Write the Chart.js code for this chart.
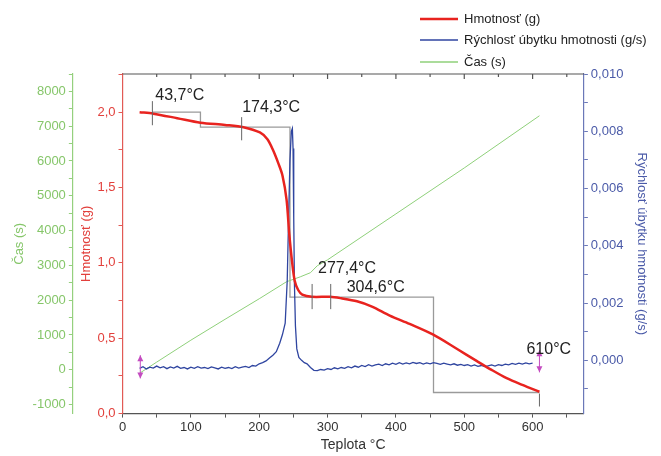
<!DOCTYPE html>
<html>
<head>
<meta charset="utf-8">
<script src="https://cdn.jsdelivr.net/npm/chart.js@4.4.1/dist/chart.umd.min.js"></script>
<style>
  html, body { margin: 0; padding: 0; background: #fff; }
  #wrap { width: 661px; height: 456px; }
</style>
</head>
<body>
<div id="wrap"><canvas id="tgaChart"></canvas></div>
<script>
// hmotnost (g) vs teplota
var massTemp = [25, 45, 80, 114, 150, 177, 201, 212, 220, 228, 234, 240, 244, 248, 252, 257, 263, 277, 304, 320, 343, 365, 391, 420, 454, 489, 518, 540, 562, 585, 610];
var massValues = [2.00, 1.99, 1.96, 1.93, 1.915, 1.90, 1.865, 1.82, 1.75, 1.66, 1.58, 1.42, 1.19, 1.01, 0.88, 0.82, 0.79, 0.775, 0.775, 0.765, 0.745, 0.71, 0.65, 0.595, 0.525, 0.43, 0.35, 0.29, 0.235, 0.19, 0.145];

// rychlost ubytku hmotnosti (g/s)
var rateTemp = [25, 30, 35, 40, 45, 50, 55, 60, 65, 70, 75, 80, 85, 90, 95, 100, 105, 110, 115, 120, 125, 130, 135, 140, 145, 150, 155, 160, 165, 170, 175, 180, 185, 190, 195, 200, 205, 210, 215, 220, 225, 230, 234, 238, 241, 243, 245, 247, 248.5, 249.5, 250.5, 251.5, 253, 255, 258, 262, 266, 270, 275, 280, 285, 290, 295, 300, 305, 310, 315, 320, 325, 330, 335, 340, 345, 350, 355, 360, 365, 370, 375, 380, 385, 390, 395, 400, 405, 410, 415, 420, 425, 430, 435, 440, 445, 450, 455, 460, 465, 470, 475, 480, 485, 490, 495, 500, 505, 510, 515, 520, 525, 530, 535, 540, 545, 550, 555, 560, 565, 570, 575, 580, 585, 590, 595, 600, 605, 610];
var rateValues = [-0.00028, -0.00022, -0.00030, -0.00024, -0.00027, -0.00020, -0.00026, -0.00022, -0.00029, -0.00023, -0.00027, -0.00021, -0.00028, -0.00025, -0.00030, -0.00024, -0.00028, -0.00022, -0.00027, -0.00025, -0.00029, -0.00023, -0.00026, -0.00030, -0.00024, -0.00028, -0.00025, -0.00029, -0.00022, -0.00027, -0.00024, -0.00021, -0.00025, -0.00018, -0.00020, -0.00012, -0.00008, -0.00002, 0.00008, 0.00018, 0.00030, 0.00060, 0.00090, 0.00130, 0.0028, 0.0050, 0.0070, 0.0080, 0.0081, 0.0074, 0.0050, 0.0027, 0.0012, 0.0004, 0.00010, 0.00000, -0.00008, -0.00012, -0.00025, -0.00035, -0.00036, -0.00032, -0.00034, -0.00029, -0.00032, -0.00026, -0.00030, -0.00025, -0.00028, -0.00022, -0.00026, -0.00020, -0.00024, -0.00018, -0.00022, -0.00015, -0.00020, -0.00016, -0.00013, -0.00018, -0.00012, -0.00016, -0.00010, -0.00014, -0.00008, -0.00013, -0.00009, -0.00012, -0.00007, -0.00011, -0.00008, -0.00013, -0.00009, -0.00012, -0.00008, -0.00011, -0.00014, -0.00010, -0.00013, -0.00016, -0.00012, -0.00017, -0.00014, -0.00018, -0.00015, -0.00020, -0.00016, -0.00021, -0.00018, -0.00022, -0.00019, -0.00016, -0.00020, -0.00015, -0.00018, -0.00013, -0.00016, -0.00011, -0.00014, -0.00010, -0.00013, -0.00009, -0.00012, -0.00010];

// cas (s)
var timeTemp = [25, 50, 100, 150, 200, 240, 260, 275, 285, 300, 400, 500, 610];
var timeValues = [-100, 220, 850, 1450, 2040, 2530, 2670, 2790, 2990, 3160, 4480, 5800, 7300];

// znacky teplot
var markTemps = [43.7, 174.3, 277.4, 304.6, 610];
var markLabels = ['43,7°C', '174,3°C', '277,4°C', '304,6°C', '610°C'];
var markSpan = [[2.073, 1.913], [1.967, 1.813], [0.86, 0.693], [0.86, 0.693], [0.133, 0.047]];
var labelPos = [[48, 2.113], [175, 2.027], [286, 0.96], [328, 0.833], [591, 0.427]];

// schodovita konstrukcia
var stepTemp = [43.7, 114, 114, 245, 245, 455, 455, 610];
var stepMass = [2.0, 2.0, 1.9, 1.9, 0.773, 0.773, 0.14, 0.14];

var font = 'Liberation Sans, Arial, sans-serif';
var RED = '#e8231f', BLUE = '#2f45a0', GREEN = '#8fd07a';

function toXY(xs, ys) {
    var out = [];
    for (var i = 0; i < xs.length; i++) out.push({ x: xs[i], y: ys[i] });
    return out;
}

function stepTicks(from, to, step) {
    var t = [];
    var n = Math.round((to - from) / step);
    for (var i = 0; i <= n; i++) t.push({ value: +(from + i * step).toFixed(6) });
    return t;
}

function drawArrow(ctx, x, y1, y2) {
    ctx.beginPath();
    ctx.moveTo(x, y1); ctx.lineTo(x, y2); ctx.stroke();
    ctx.beginPath();
    ctx.moveTo(x, y1); ctx.lineTo(x - 3, y1 + 6); ctx.lineTo(x + 3, y1 + 6); ctx.closePath(); ctx.fill();
    ctx.beginPath();
    ctx.moveTo(x, y2); ctx.lineTo(x - 3, y2 - 6); ctx.lineTo(x + 3, y2 - 6); ctx.closePath(); ctx.fill();
}

var annotations = {
    id: 'annotations',
    beforeDatasetsDraw: function(chart) {
        var ctx = chart.ctx, xs = chart.scales.x, ym = chart.scales.yMass;
        ctx.save();
        ctx.strokeStyle = '#9a9a9a';
        ctx.lineWidth = 1.3;
        ctx.beginPath();
        for (var i = 0; i < stepTemp.length; i++) {
            var px = xs.getPixelForValue(stepTemp[i]), py = ym.getPixelForValue(stepMass[i]);
            if (i === 0) ctx.moveTo(px, py); else ctx.lineTo(px, py);
        }
        ctx.stroke();
        ctx.restore();
    },
    afterDatasetsDraw: function(chart) {
        var ctx = chart.ctx, xs = chart.scales.x, ym = chart.scales.yMass, yr = chart.scales.yRate;
        var a = chart.chartArea;
        ctx.save();
        // horny ramcek
        ctx.strokeStyle = '#555';
        ctx.lineWidth = 1.2;
        ctx.beginPath();
        ctx.moveTo(a.left, a.top); ctx.lineTo(a.right, a.top);
        for (var t = 50; t < 675; t += 50) {
            var tx = xs.getPixelForValue(t);
            ctx.moveTo(tx, a.top); ctx.lineTo(tx, a.top + (t % 100 === 0 ? 5 : 3));
        }
        ctx.stroke();

        // zvisle znacky
        ctx.strokeStyle = '#666';
        ctx.lineWidth = 1;
        ctx.beginPath();
        for (var i = 0; i < markTemps.length; i++) {
            var mx = xs.getPixelForValue(markTemps[i]);
            ctx.moveTo(mx, ym.getPixelForValue(markSpan[i][0]));
            ctx.lineTo(mx, ym.getPixelForValue(markSpan[i][1]));
        }
        ctx.stroke();

        // sipky
        ctx.strokeStyle = '#c44cc0';
        ctx.fillStyle = '#c44cc0';
        ctx.lineWidth = 1;
        drawArrow(ctx, xs.getPixelForValue(26), yr.getPixelForValue(0.00018), yr.getPixelForValue(-0.00063));
        drawArrow(ctx, xs.getPixelForValue(610), yr.getPixelForValue(0.00035), yr.getPixelForValue(-0.00042));

        // popisky
        ctx.fillStyle = '#222';
        ctx.font = '16px ' + font;
        ctx.textBaseline = 'middle';
        ctx.textAlign = 'left';
        for (var j = 0; j < markLabels.length; j++) {
            ctx.fillText(markLabels[j], xs.getPixelForValue(labelPos[j][0]), ym.getPixelForValue(labelPos[j][1]));
        }
        ctx.restore();
    },
    afterDraw: function(chart) {
        // legenda vpravo hore
        var ctx = chart.ctx;
        var ds = chart.data.datasets;
        var rows = [19, 40, 62];
        ctx.save();
        ctx.font = '13px ' + font;
        ctx.textBaseline = 'middle';
        ctx.fillStyle = '#222';
        for (var i = 0; i < ds.length; i++) {
            ctx.strokeStyle = ds[i].borderColor;
            ctx.lineWidth = i === 0 ? 2.5 : 1.3;
            ctx.beginPath();
            ctx.moveTo(420, rows[i]); ctx.lineTo(458, rows[i]);
            ctx.stroke();
            ctx.fillText(ds[i].label, 464, rows[i]);
        }
        ctx.restore();
    }
};

var ctx = document.getElementById('tgaChart').getContext('2d');
var tgaChart = new Chart(ctx, {
    type: 'line',
    data: {
        datasets: [{
            label: 'Hmotnosť (g)',
            data: toXY(massTemp, massValues),
            borderColor: RED,
            borderWidth: 2.5,
            yAxisID: 'yMass',
            pointRadius: 0,
            tension: 0.3
        }, {
            label: 'Rýchlosť úbytku hmotnosti (g/s)',
            data: toXY(rateTemp, rateValues),
            borderColor: BLUE,
            borderWidth: 1.3,
            yAxisID: 'yRate',
            pointRadius: 0,
            tension: 0
        }, {
            label: 'Čas (s)',
            data: toXY(timeTemp, timeValues),
            borderColor: GREEN,
            borderWidth: 1,
            yAxisID: 'yTime',
            pointRadius: 0,
            tension: 0
        }]
    },
    options: {
        responsive: true,
        maintainAspectRatio: false,
        animation: false,
        layout: { padding: { top: 74, left: 5, right: 6, bottom: 0 } },
        plugins: {
            legend: { display: false },
            tooltip: { enabled: false }
        },
        scales: {
            x: {
                type: 'linear',
                min: 0,
                max: 675,
                afterBuildTicks: function(s) { s.ticks = stepTicks(0, 650, 50); },
                ticks: {
                    autoSkip: false, maxRotation: 0, padding: 2,
                    color: '#333', font: { family: font, size: 13 },
                    callback: function(v) { return v % 100 === 0 ? v : ''; }
                },
                grid: { drawOnChartArea: false, tickLength: 4, color: '#555' },
                border: { color: '#555', width: 1.2 },
                title: { display: true, text: 'Teplota °C', color: '#333', font: { family: font, size: 14 }, padding: { top: 0, bottom: 2 } }
            },
            yMass: {
                position: 'left',
                weight: 0,
                min: 0,
                max: 2.253,
                afterBuildTicks: function(s) { s.ticks = stepTicks(0, 2.25, 0.25); },
                ticks: {
                    autoSkip: false, padding: 3,
                    color: '#e2403c', font: { family: font, size: 13 },
                    callback: function(v) { return Math.round(v * 100) % 50 === 0 ? v.toFixed(1).replace('.', ',') : ''; }
                },
                grid: { drawOnChartArea: false, tickLength: 4, color: '#e25a55' },
                border: { color: '#e25a55', width: 1.2 },
                title: { display: true, text: 'Hmotnosť (g)', color: '#e2403c', font: { family: font, size: 13 }, padding: { top: 6, bottom: 0 } }
            },
            yTime: {
                position: 'left',
                weight: 1,
                min: -1260,
                max: 8500,
                afterBuildTicks: function(s) { s.ticks = stepTicks(-1000, 8500, 500); },
                ticks: {
                    autoSkip: false, padding: 3,
                    color: '#86c66a', font: { family: font, size: 13 },
                    callback: function(v) { return v % 1000 === 0 ? v : ''; }
                },
                grid: { drawOnChartArea: false, tickLength: 4, color: '#95d07e' },
                border: { color: '#95d07e', width: 1.2 },
                title: { display: true, text: 'Čas (s)', color: '#86c66a', font: { family: font, size: 13 }, padding: { top: 7, bottom: 2 } }
            },
            yRate: {
                position: 'right',
                min: -0.00186,
                max: 0.010,
                afterBuildTicks: function(s) { s.ticks = stepTicks(-0.001, 0.010, 0.001); },
                ticks: {
                    autoSkip: false, padding: 3,
                    color: '#4a5aa8', font: { family: font, size: 13 },
                    callback: function(v) { var k = Math.round(v * 1000); return (k >= 0 && k % 2 === 0) ? v.toFixed(3).replace('.', ',') : ''; }
                },
                grid: { drawOnChartArea: false, tickLength: 4, color: '#6b78b8' },
                border: { color: '#6b78b8', width: 1.2 },
                title: { display: true, text: 'Rýchlosť úbytku hmotnosti (g/s)', color: '#4a5aa8', font: { family: font, size: 13 }, padding: { top: 6, bottom: 7 } }
            }
        }
    },
    plugins: [annotations]
});
</script>
</body>
</html>
